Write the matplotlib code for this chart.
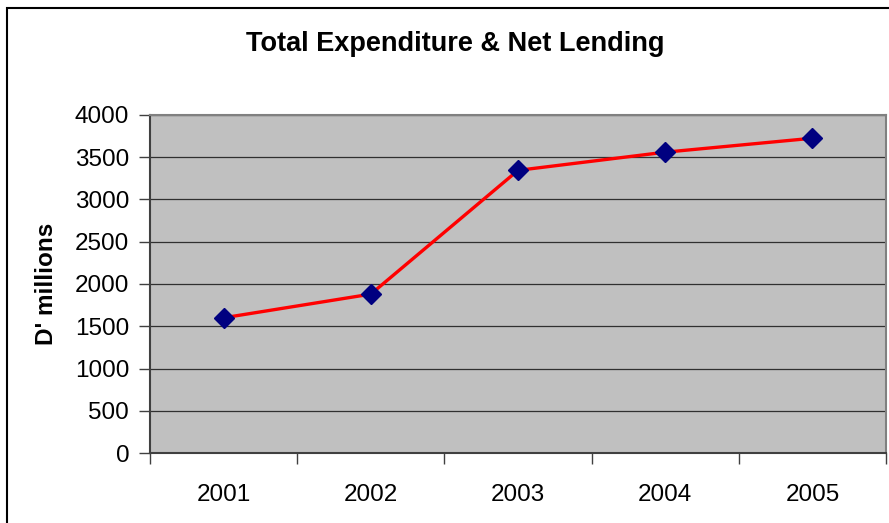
import matplotlib
matplotlib.use("Agg")
import matplotlib.pyplot as plt
from matplotlib.patches import Rectangle

plt.rcParams['font.family'] = ['Liberation Sans', 'DejaVu Sans']

years = ["2001", "2002", "2003", "2004", "2005"]
spending = [1600, 1880, 3345, 3560, 3725]
y_ticks = [0, 500, 1000, 1500, 2000, 2500, 3000, 3500, 4000]

W, H = 889, 523
fig = plt.figure(figsize=(W / 100, H / 100), dpi=100)
fig.patch.set_facecolor("white")

# outer chart frame
fig.patches.append(Rectangle((7 / W, -0.05), 1.2, (H - 8) / H + 0.05,
                             transform=fig.transFigure, fill=False,
                             edgecolor="black", linewidth=1.5))

ax = fig.add_axes([150 / W, (H - 453) / H, 736 / W, 338 / H])
ax.set_facecolor("#C0C0C0")

x = [i + 0.5 for i in range(len(years))]
ax.plot(x, spending, color="#FF0000", linewidth=2.4, zorder=3,
        marker="D", markersize=10, markerfacecolor="#000080",
        markeredgecolor="#000080")

ax.set_xlim(0, len(years))
ax.set_ylim(0, 4000)
ax.set_yticks(y_ticks)
ax.set_yticklabels([str(v) for v in y_ticks], fontsize=17.5)
ax.yaxis.grid(True, color="#303030", linewidth=0.9)
ax.set_axisbelow(True)

ax.set_xticks(range(len(years) + 1))
ax.set_xticklabels([])
ax.set_xticks(x, minor=True)
ax.set_xticklabels(years, minor=True, fontsize=17.5)
ax.tick_params(axis="x", which="major", length=8, width=1, color="#404040")
ax.tick_params(axis="x", which="minor", length=0, pad=22)
ax.tick_params(axis="y", length=8, width=1, color="#404040", pad=7)

for side in ("top", "right"):
    ax.spines[side].set_color("#808080")
    ax.spines[side].set_linewidth(1.5)
for side in ("left", "bottom"):
    ax.spines[side].set_color("#404040")
    ax.spines[side].set_linewidth(1.5)

ax.set_ylabel("D' millions", fontsize=17.5, fontweight="bold", labelpad=12)
fig.text(455 / W, 1 - 44 / H, "Total Expenditure & Net Lending",
         ha="center", va="center", fontsize=19.5, fontweight="bold")

fig.savefig("out.png", dpi=100)
